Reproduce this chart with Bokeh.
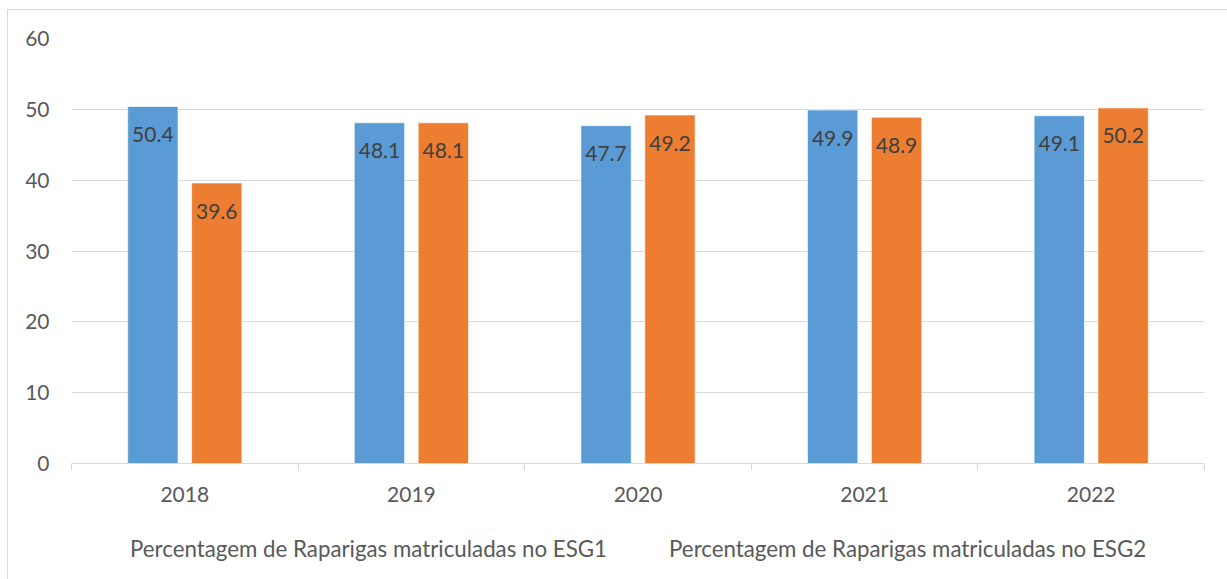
from bokeh.plotting import figure
from bokeh.layouts import column
from bokeh.models import ColumnDataSource, FixedTicker, Legend, LegendItem
from bokeh.core.properties import value
from bokeh.embed import file_html
from bokeh.resources import INLINE

years = ["2018", "2019", "2020", "2021", "2022"]
esg1 = [50.4, 48.1, 47.7, 49.9, 49.1]
esg2 = [39.6, 48.1, 49.2, 48.9, 50.2]
series_names = ["Percentagem de Raparigas matriculadas no ESG1",
                "Percentagem de Raparigas matriculadas no ESG2"]
colors = ["#5B9BD5", "#ED7D31"]
y_ticks = [0, 10, 20, 30, 40, 50, 60]

FONT = "Lato"
centers = [i + 0.5 for i in range(len(years))]
bounds = [float(i) for i in range(len(years) + 1)]
off = 0.141
bw = 0.222

src = ColumnDataSource(dict(
    xc=centers,
    x1=[c - off for c in centers],
    x2=[c + off for c in centers],
    esg1=esg1, esg2=esg2,
    l1=[f"{v:.1f}" for v in esg1],
    l2=[f"{v:.1f}" for v in esg2],
))

p = figure(frame_width=1133, frame_height=425, x_range=(0, len(years)), y_range=(0, 60),
           output_backend="svg", toolbar_location=None,
           min_border_left=63, min_border_top=28, min_border_right=23, min_border_bottom=50)
p.outline_line_color = None
p.background_fill_color = "white"
p.border_fill_color = "white"

bar_kw = dict(width=bw, line_color="white", line_alpha=0.6, line_width=1)
r1 = p.vbar(x="x1", top="esg1", fill_color=colors[0], source=src, **bar_kw)
r2 = p.vbar(x="x2", top="esg2", fill_color=colors[1], source=src, **bar_kw)

for xcol, ycol, lcol in [("x1", "esg1", "l1"), ("x2", "esg2", "l2")]:
    p.text(x=xcol, y=ycol, text=lcol, source=src, text_align="center",
           text_baseline="middle", y_offset=28, text_color="#404040",
           text_font=value(FONT), text_font_size="21px")

# x axis
p.xaxis.ticker = FixedTicker(ticks=centers, minor_ticks=bounds)
p.xaxis.major_label_overrides = {c: y for c, y in zip(centers, years)}
p.xaxis.major_tick_out = 0
p.xaxis.major_tick_in = 0
p.xaxis.minor_tick_out = 7
p.xaxis.minor_tick_in = 0
p.xaxis.minor_tick_line_color = "#d9d9d9"
p.xaxis.axis_line_color = "#d9d9d9"
p.xaxis.major_label_standoff = 16
p.xaxis.major_label_text_font = FONT
p.xaxis.major_label_text_font_size = "21px"
p.xaxis.major_label_text_color = "#595959"
p.xgrid.visible = False

# y axis
p.yaxis.ticker = FixedTicker(ticks=y_ticks)
p.yaxis.axis_line_color = None
p.yaxis.major_tick_line_color = None
p.yaxis.minor_tick_line_color = None
p.yaxis.major_label_standoff = 16
p.yaxis.major_label_text_font = FONT
p.yaxis.major_label_text_font_size = "21px"
p.yaxis.major_label_text_color = "#595959"
p.ygrid.grid_line_color = "#d9d9d9"
p.ygrid.grid_line_width = 1

# legend strip (separate figure, aligned with the main frame, so the legend is not clipped)
lf = figure(frame_width=1133, frame_height=66, x_range=(0, len(years)), y_range=(0, 60),
            output_backend="svg", toolbar_location=None,
            x_axis_location=None, y_axis_location=None,
            min_border_left=63, min_border_right=23, min_border_top=0, min_border_bottom=0)
lf.grid.visible = False
lf.outline_line_color = None
lf.background_fill_color = "white"
lf.border_fill_color = "white"
empty = ColumnDataSource(dict(x=[], top=[]))
lr1 = lf.vbar(x="x", top="top", fill_color=colors[0], source=empty, **bar_kw)
lr2 = lf.vbar(x="x", top="top", fill_color=colors[1], source=empty, **bar_kw)
legend = Legend(items=[LegendItem(label=series_names[0], renderers=[lr1]),
                       LegendItem(label=series_names[1], renderers=[lr2])],
                orientation="horizontal", location=(39, 17),
                glyph_width=14, glyph_height=14, label_standoff=6, spacing=42,
                label_text_font=FONT, label_text_font_size="22.3px",
                label_text_color="#595959", border_line_color=None,
                background_fill_alpha=0, margin=0, padding=0)
lf.add_layout(legend, "center")

layout = column(p, lf, spacing=0,
                styles={"border-left": "1px solid #d9d9d9", "border-top": "1px solid #d9d9d9",
                        "margin-left": "7px", "margin-top": "9px"})

open("out.html", "w").write(file_html(layout, INLINE))
